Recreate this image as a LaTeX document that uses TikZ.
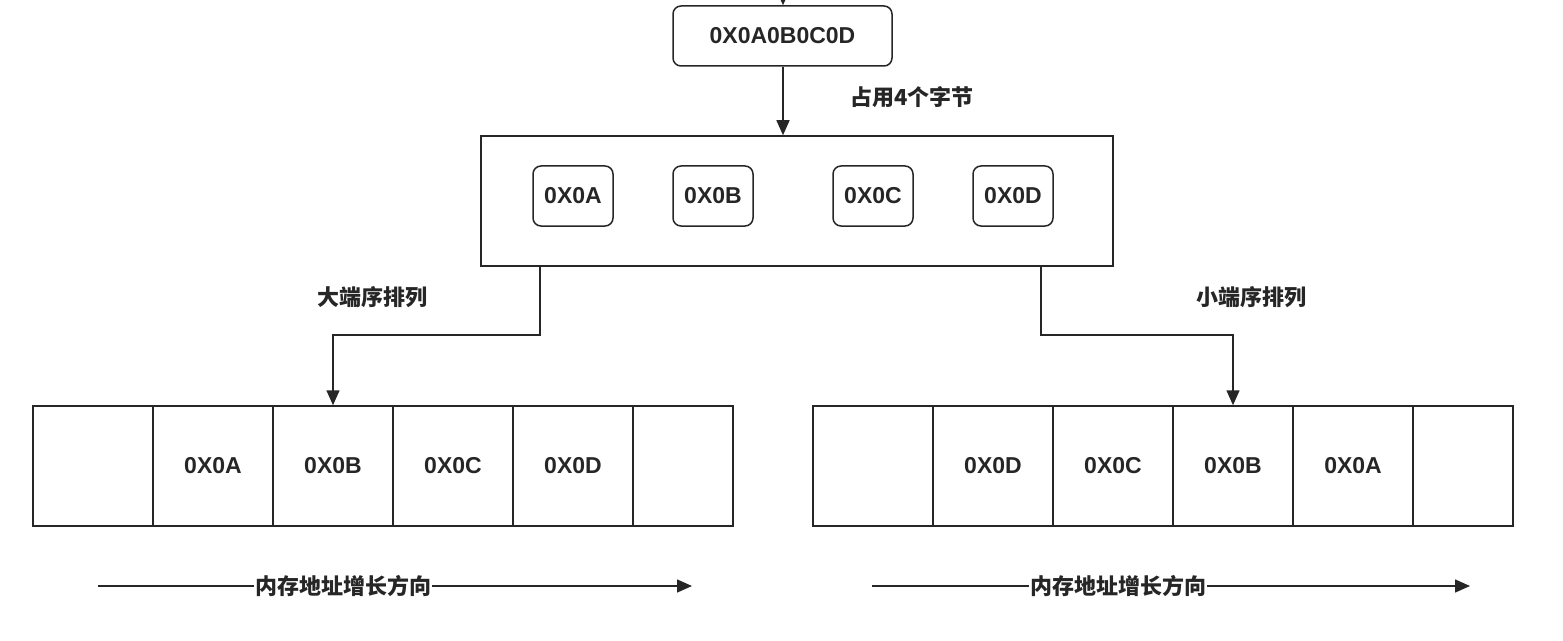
\documentclass[tikz,border=0pt]{standalone}
\usepackage{fontspec}
\setmainfont{Liberation Sans}
\newfontfamily\cjk{Noto Sans CJK SC}
\usetikzlibrary{arrows.meta}
\tikzset{
  line/.style={line width=1.5bp, draw=black!85},
  arr/.style={line, -{Triangle[length=15bp,width=13bp]}},
  lat/.style={font=\fontsize{23bp}{27bp}\selectfont\bfseries, text=black!85},
  cn/.style={font=\fontsize{22bp}{26bp}\selectfont\cjk\bfseries, text=black!85},
  rbox/.style={line, rounded corners=8bp, lat, inner sep=0pt},
  cell/.style={line, lat, inner sep=0pt},
}
\begin{document}
\begin{tikzpicture}[x=1bp,y=-1bp]
\useasboundingbox (0,0) rectangle (1563,641);
% top value
\node[rbox, minimum width=219bp, minimum height=60bp] (top) at (782.5,36) {0X0A0B0C0D};
\coordinate (src) at (783,-20);
\draw[arr] (src) -- (top.north -| src);
% middle container
\node[line, minimum width=632bp, minimum height=130bp, inner sep=0pt] (mid) at (797,201) {};
\draw[arr] (top.south -| 783,0) -- (mid.north -| 783,0);
\node[cn] (occ) at (912,97) {占用4个字节};
% bytes
\node[rbox, minimum width=80bp, minimum height=60bp] (b1) at (573,196) {0X0A};
\node[rbox, minimum width=80bp, minimum height=60bp] (b2) at (713,196) {0X0B};
\node[rbox, minimum width=80bp, minimum height=60bp] (b3) at (873,196) {0X0C};
\node[rbox, minimum width=80bp, minimum height=60bp] (b4) at (1013,196) {0X0D};
% left memory row
\foreach \n/\x/\w/\t in {l0/93/120/{}, l1/213/120/0X0A, l2/333/120/0X0B, l3/453/120/0X0C, l4/573/120/0X0D, l5/683/100/{}}
  \node[cell, minimum width=\w bp, minimum height=120bp] (\n) at (\x,466) {\t};
% right memory row
\foreach \n/\x/\w/\t in {r0/873/120/{}, r1/993/120/0X0D, r2/1113/120/0X0C, r3/1233/120/0X0B, r4/1353/120/0X0A, r5/1463/100/{}}
  \node[cell, minimum width=\w bp, minimum height=120bp] (\n) at (\x,466) {\t};
% connectors
\draw[arr] (mid.south -| 540,0) |- (333,335) -- (l2.north);
\draw[arr] (mid.south -| 1041,0) |- (1233,335) -- (r3.north);
\node[cn] (big) at (372,297) {大端序排列};
\node[cn] (little) at (1251,297) {小端序排列};
% address direction
\coordinate (la) at (98,586);
\coordinate (lb) at (692,586);
\coordinate (ra) at (872,586);
\coordinate (rb) at (1470,586);
\draw[arr] (la) -- (lb);
\draw[arr] (ra) -- (rb);
\node[cn, fill=white, inner sep=1bp] (dl) at (343,586) {内存地址增长方向};
\node[cn, fill=white, inner sep=1bp] (dr) at (1118,586) {内存地址增长方向};
\end{tikzpicture}
\end{document}
